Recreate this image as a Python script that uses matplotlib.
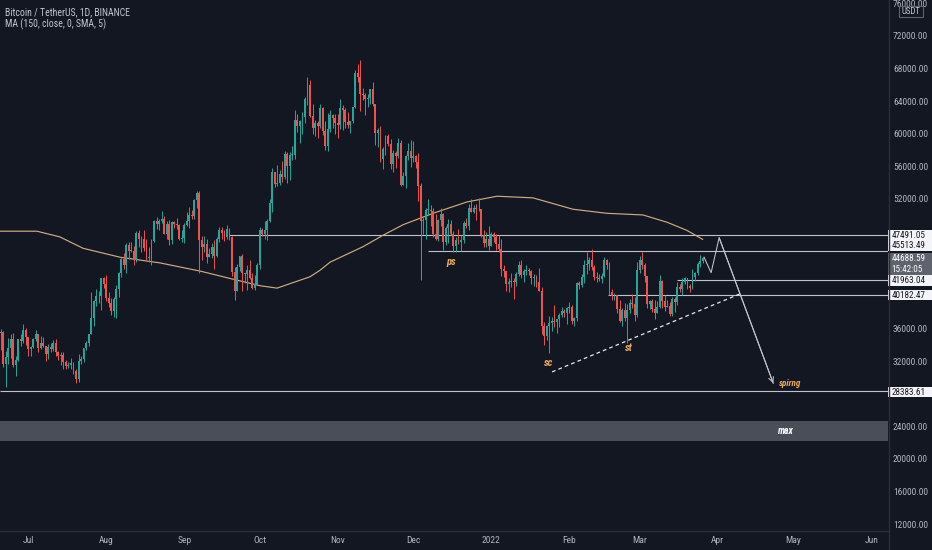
import datetime as dt
import matplotlib
matplotlib.use("Agg")
import matplotlib.pyplot as plt
import matplotlib.dates as mdates
from matplotlib import font_manager as fm
from matplotlib.patches import Rectangle

# ---------------- data (prices in thousands of USDT) ----------------
start_date = dt.date(2021, 6, 20)
first_open = 35.5

close_jun = [35.6, 31.7, 32.5, 33.7, 34.7, 31.6, 32.2, 34.7, 34.5, 35.9, 35.0]
high_jun = [36.0, 35.7, 33.3, 34.9, 35.3, 35.5, 32.7, 34.7, 35.3, 36.6, 36.1]
low_jun = [33.4, 31.3, 28.8, 31.7, 32.4, 31.3, 30.2, 32.0, 33.9, 34.3, 34.0]

close_jul = [33.5, 33.8, 34.7, 35.3, 33.7, 34.2, 33.9, 32.9, 33.8, 33.5, 34.3, 33.1, 32.7, 32.8, 31.9, 31.4,
             31.5, 31.8, 30.8, 29.8, 32.1, 32.3, 33.6, 34.3, 35.4, 37.3, 39.4, 40.0, 40.0, 42.2, 41.5]
high_jul = [35.0, 33.9, 34.9, 35.9, 35.3, 35.1, 35.0, 33.9, 34.1, 34.3, 34.6, 34.7, 33.3, 33.1, 33.2, 32.2,
            31.9, 32.4, 31.9, 31.0, 32.9, 32.6, 33.6, 34.5, 35.4, 40.5, 39.5, 40.9, 40.6, 42.3, 42.4]
low_jul = [32.7, 32.7, 33.6, 34.5, 33.2, 33.5, 33.8, 32.1, 32.3, 33.1, 33.3, 32.7, 32.2, 31.6, 31.1, 31.0,
           31.2, 31.1, 30.4, 29.3, 29.5, 31.7, 31.9, 33.4, 33.9, 35.3, 36.4, 38.8, 39.2, 38.3, 41.0]

close_aug = [39.8, 39.2, 38.2, 39.7, 40.9, 42.8, 44.6, 43.8, 46.3, 45.6, 45.6, 44.4, 47.8, 47.1, 47.0, 45.9,
             44.7, 44.7, 46.8, 49.3, 48.9, 49.3, 49.5, 47.7, 48.9, 46.9, 49.1, 48.9, 48.8, 47.0, 47.2]
high_aug = [42.6, 40.5, 39.8, 39.9, 41.4, 43.0, 44.7, 45.3, 46.5, 46.7, 46.7, 46.2, 48.0, 48.1, 47.4, 48.1,
            47.1, 46.0, 47.0, 49.4, 49.8, 49.5, 50.5, 49.9, 49.2, 49.4, 49.2, 49.3, 49.6, 48.9, 48.2]
low_aug = [39.4, 38.7, 37.7, 37.5, 37.3, 39.9, 42.4, 43.4, 42.8, 44.6, 45.4, 43.8, 44.2, 46.0, 45.5, 45.6,
           44.4, 44.2, 43.9, 46.7, 48.3, 48.1, 49.0, 47.6, 47.1, 46.3, 46.4, 48.4, 48.3, 46.9, 46.7]

close_sep = [48.8, 49.3, 50.0, 49.9, 51.8, 52.7, 46.9, 46.1, 46.4, 44.8, 45.2, 46.1, 45.0, 47.1, 48.1,
             47.8, 47.3, 48.3, 47.3, 43.0, 40.7, 43.6, 44.9, 42.8, 42.7, 43.2, 42.2, 41.0, 41.5, 43.8]
high_sep = [49.0, 50.4, 51.0, 50.6, 51.9, 52.9, 52.9, 47.4, 47.4, 47.0, 45.9, 46.5, 46.9, 47.3, 48.5,
            48.5, 48.2, 48.8, 48.4, 47.4, 43.6, 44.0, 44.9, 45.2, 42.9, 43.9, 44.4, 42.8, 42.6, 44.1]
low_sep = [46.5, 48.6, 48.4, 49.5, 49.5, 50.9, 42.8, 44.4, 45.5, 44.1, 44.8, 44.7, 43.4, 44.8, 46.7,
           47.0, 46.8, 47.0, 46.9, 42.5, 39.6, 40.6, 43.1, 40.7, 41.6, 40.8, 42.1, 40.9, 40.8, 41.4]

close_oct = [48.2, 47.6, 48.2, 49.2, 51.5, 55.3, 53.8, 53.9, 55.0, 54.7, 57.5, 56.0, 57.4, 57.4, 61.7, 60.9,
             61.5, 62.0, 64.3, 66.0, 62.2, 60.7, 61.3, 60.9, 63.1, 60.3, 58.5, 60.6, 62.3, 61.9, 61.3]
high_oct = [48.5, 48.4, 49.2, 49.5, 51.9, 55.8, 55.3, 56.1, 55.5, 56.6, 57.8, 57.7, 57.7, 58.5, 62.9, 62.4,
            61.7, 62.7, 64.5, 67.0, 66.6, 63.7, 61.7, 61.5, 63.7, 63.3, 61.5, 62.5, 62.9, 62.4, 62.4]
low_oct = [43.3, 47.4, 47.1, 46.9, 49.1, 50.4, 53.4, 53.6, 53.7, 54.1, 54.4, 53.9, 54.3, 56.8, 56.9, 60.2,
           58.9, 60.0, 61.3, 63.5, 62.0, 60.0, 59.7, 59.5, 60.7, 59.8, 58.0, 57.8, 60.2, 60.7, 60.0]

close_nov = [61.0, 63.2, 62.9, 61.4, 61.0, 61.5, 63.3, 67.5, 66.9, 64.9, 64.8, 64.2, 64.4, 65.5, 63.6,
             60.1, 60.4, 56.9, 58.1, 59.7, 58.7, 56.3, 57.6, 57.2, 58.9, 53.7, 54.8, 57.3, 57.8, 57.0]
high_nov = [62.4, 64.3, 63.5, 63.1, 62.6, 61.6, 63.3, 67.8, 68.5, 69.0, 65.6, 65.0, 64.9, 65.5, 66.4,
            63.6, 60.7, 60.9, 58.4, 59.8, 60.0, 59.3, 58.0, 57.8, 59.4, 59.2, 55.3, 57.4, 58.9, 59.2]
low_nov = [59.4, 60.6, 60.4, 60.7, 60.7, 60.1, 61.3, 63.1, 66.3, 62.8, 64.1, 62.3, 63.3, 63.6, 63.4,
           58.6, 58.4, 56.5, 55.6, 57.4, 58.5, 55.6, 55.3, 55.8, 57.0, 53.6, 53.7, 53.3, 56.7, 55.9]

close_dec = [57.2, 56.5, 53.6, 49.2, 49.4, 50.6, 50.6, 50.5, 47.7, 47.1, 49.4, 50.1, 46.7, 48.4, 48.9, 47.6,
             46.2, 46.9, 46.7, 46.9, 49.0, 48.6, 50.8, 50.4, 50.8, 50.7, 50.7, 47.5, 46.5, 47.1, 46.2]
high_dec = [59.1, 57.4, 57.6, 53.9, 49.7, 50.9, 51.9, 51.2, 50.8, 50.1, 49.5, 50.8, 50.2, 48.7, 49.5, 49.4,
            48.0, 47.3, 48.3, 47.5, 49.3, 49.6, 51.4, 51.9, 51.2, 51.3, 52.1, 50.7, 48.1, 47.9, 48.6]
low_dec = [56.5, 55.8, 51.7, 42.0, 47.7, 47.1, 50.0, 48.6, 47.3, 46.9, 46.8, 48.6, 45.7, 46.3, 46.5, 47.5,
           45.5, 45.5, 46.4, 45.6, 46.6, 48.4, 48.1, 50.4, 50.2, 49.4, 50.5, 47.3, 46.1, 46.0, 45.7]

close_jan = [47.7, 47.3, 46.4, 45.8, 43.4, 43.1, 41.5, 41.7, 41.9, 41.8, 42.7, 43.9, 42.6, 43.1, 43.2, 43.1,
             42.2, 42.4, 41.7, 40.7, 36.4, 35.1, 36.3, 36.7, 36.9, 36.8, 37.2, 37.7, 38.2, 37.9, 38.5]
high_jan = [47.9, 47.9, 47.6, 47.5, 47.1, 43.8, 43.1, 42.3, 42.8, 42.2, 43.0, 44.3, 44.5, 43.4, 43.8, 43.5,
            43.2, 42.7, 42.6, 43.5, 41.1, 36.8, 36.5, 37.6, 37.5, 38.9, 37.2, 38.0, 38.7, 38.4, 38.7]
low_jan = [46.2, 46.7, 45.7, 45.5, 42.5, 42.4, 40.6, 40.5, 41.2, 39.7, 41.3, 42.5, 42.3, 41.7, 42.6, 42.6,
           41.5, 41.3, 41.1, 40.6, 35.4, 34.0, 34.6, 33.0, 35.7, 36.2, 35.5, 36.2, 37.4, 37.4, 36.6]

close_feb = [38.7, 36.9, 37.3, 41.6, 41.4, 42.4, 43.8, 44.0, 44.4, 43.6, 42.4, 42.2, 42.1, 42.5, 44.5, 43.9,
             40.5, 40.0, 40.1, 38.4, 37.0, 38.3, 37.3, 38.3, 39.2, 39.1, 37.7, 43.2]
high_feb = [39.3, 38.9, 37.4, 41.7, 41.9, 42.7, 44.5, 45.5, 44.8, 45.8, 43.9, 43.0, 42.7, 42.9, 44.8, 44.6,
            44.2, 40.9, 40.4, 40.2, 39.5, 38.5, 39.2, 39.0, 39.7, 40.3, 39.9, 44.2]
low_feb = [38.0, 36.6, 36.3, 37.0, 40.9, 41.1, 41.6, 42.7, 43.2, 43.2, 42.0, 41.7, 41.9, 41.6, 42.4, 43.3,
           40.1, 39.5, 39.6, 38.0, 36.8, 36.4, 37.0, 34.3, 38.0, 38.6, 37.0, 37.4]

close_mar = [44.4, 43.9, 42.5, 39.1, 39.4, 38.4, 38.0, 38.7, 41.9, 39.4, 38.7, 38.8, 37.8, 39.7, 39.3, 41.1,
             40.9, 41.8, 42.2, 41.3, 41.0, 42.4, 42.9, 44.0, 44.3, 44.68859]
high_mar = [44.9, 45.4, 44.1, 42.5, 39.6, 39.7, 39.5, 39.4, 42.6, 42.0, 40.2, 39.5, 39.3, 39.9, 39.9, 41.7,
            41.5, 42.3, 42.4, 42.3, 41.5, 43.4, 43.0, 44.2, 45.1, 44.8]
low_mar = [42.8, 43.3, 41.8, 38.6, 38.4, 38.1, 37.2, 37.9, 38.6, 38.5, 38.2, 38.7, 37.6, 37.6, 38.1, 38.9,
           40.5, 40.1, 41.5, 40.9, 40.5, 40.9, 41.9, 42.6, 43.6, 44.1]

# MA(150): days after 2021-07-01, value (k)
ma_days = [-11.2, 3.5, 12.6, 21.8, 36.5, 52.4, 68.3, 81.4, 92.1, 98.9, 104.5, 112.0, 116.0, 120.0,
           133.1, 141.0, 149.0, 160.9, 174.4, 186.3, 200.6, 216.5, 230.0, 244.3, 253.9, 261.8, 268.0]
ma_vals = [48.0, 48.0, 47.3, 45.9, 44.8, 44.1, 43.1, 42.1, 41.3, 41.0, 41.6, 42.4, 43.2, 44.2,
           46.1, 47.5, 48.8, 50.2, 51.6, 52.3, 52.1, 50.7, 50.2, 50.0, 49.1, 48.1, 47.0]

# drawn horizontal levels and the day (after 2021-07-01) where each starts
levels = [47491.05, 45513.49, 41963.04, 40182.47, 28383.61]
level_start_days = [80.0, 159.0, 258.0, 230.5, -12.0]

# "max" zone (USDT)
zone_low, zone_high = 22200, 24660

# dashed trend line and projected path (day after 2021-07-01, price k)
trend_days = [208.2, 282.9]
trend_vals = [30.7, 40.3]
path_days = [268.6, 271.4, 274.6, 296.1]
path_vals = [44.8, 42.9, 47.2, 29.3]

# annotations (text, day after 2021-07-01, price k)
notes = ["ps", "sc", "st", "spirng"]
note_days = [168.1, 207.0, 238.8, 302.8]
note_vals = [44.2, 31.8, 33.6, 29.3]
zone_label, zone_label_day, zone_label_val = "max", 300.9, 23.4

month_labels = ["Jul", "Aug", "Sep", "Oct", "Nov", "Dec", "2022", "Feb", "Mar", "Apr", "May", "Jun"]
price_ticks = list(range(12000, 76001, 4000))
covered_ticks = [28000, 40000, 44000, 48000]   # hidden under the level price tags
last_timer = "15:42:05"

# ---------------- styling ----------------
BG = "#131722"
TXT = "#b2b5be"
UP = "#26a69a"
DOWN = "#ef5350"
W, H = 932, 550

avail = {f.name for f in fm.fontManager.ttflist}
FONT, SCALE = "Liberation Sans", 0.86
for cand in ("Liberation Sans Narrow", "Roboto Condensed", "Open Sans Condensed"):
    if cand in avail:
        FONT, SCALE = cand, 1.0
        break
plt.rcParams["font.family"] = [FONT, "DejaVu Sans"]

def fs(v):
    return v * SCALE

closes = close_jun + close_jul + close_aug + close_sep + close_oct + close_nov + close_dec + close_jan + close_feb + close_mar
highs = high_jun + high_jul + high_aug + high_sep + high_oct + high_nov + high_dec + high_jan + high_feb + high_mar
lows = low_jun + low_jul + low_aug + low_sep + low_oct + low_nov + low_dec + low_jan + low_feb + low_mar
opens = [first_open] + closes[:-1]
n = len(closes)
dates = [start_date + dt.timedelta(days=i) for i in range(n)]
xd = mdates.date2num(dates)
jul1 = mdates.date2num(dt.date(2021, 7, 1))

O = [v * 1000 for v in opens]
C = [v * 1000 for v in closes]
Hh = [max(h * 1000, o, c) for h, o, c in zip(highs, O, C)]
L = [min(l * 1000, o, c) for l, o, c in zip(lows, O, C)]
cols = [UP if c >= o else DOWN for o, c in zip(O, C)]
bottoms = [min(o, c) for o, c in zip(O, C)]
heights = [max(abs(c - o), 70) for o, c in zip(O, C)]

fig = plt.figure(figsize=(W / 100, H / 100), dpi=100, facecolor=BG)
ax = fig.add_axes([0, 20 / H, 888 / W, 530 / H])
ax.set_facecolor(BG)
x0, x1 = jul1 - 11.2, jul1 + 341.7
ax.set_xlim(x0, x1)
ax.set_ylim(11263, 76426)
for s in ax.spines.values():
    s.set_visible(False)

# zone
ax.axhspan(zone_low, zone_high, color="#4a4e58", zorder=1, lw=0)
ax.text(jul1 + zone_label_day, zone_label_val * 1000, zone_label, color="white", fontsize=fs(7.0),
        fontstyle="italic", fontweight="bold", ha="center", va="center", zorder=6)

# levels
for lv, sd in zip(levels, level_start_days):
    ax.hlines(lv, max(jul1 + sd, x0), x1, colors="#bfc2ca", lw=0.8, zorder=2)

# MA
ax.plot([jul1 + d for d in ma_days], [v * 1000 for v in ma_vals], color="#cdac80", lw=0.85, zorder=3)

# candles
ax.vlines(xd, L, Hh, colors=cols, lw=0.7, zorder=4)
ax.bar(xd, heights, bottom=bottoms, width=0.75, color=cols, lw=0, zorder=5)

# trend / path
ax.plot([jul1 + d for d in trend_days], [v * 1000 for v in trend_vals], color="#e8e8ec", lw=0.9,
        dashes=(3, 2.5), zorder=6)
px = [jul1 + d for d in path_days]
pv = [v * 1000 for v in path_vals]
ax.plot(px, pv, color="#c2c5cd", lw=0.75, zorder=6)
ax.annotate("", xy=(px[-1], pv[-1]), xytext=(px[-2], pv[-2]),
            arrowprops=dict(arrowstyle="->", color="#c2c5cd", lw=0.75, shrinkA=0, shrinkB=0,
                            mutation_scale=9), zorder=6)

for t, d, v in zip(notes, note_days, note_vals):
    ax.text(jul1 + d, v * 1000, t, color="#eaa95a", fontsize=fs(7.6) if t != "spirng" else fs(6.6),
            fontstyle="italic", fontweight="bold", ha="center", va="center", zorder=7)

# axes ticks
months = [mdates.date2num(dt.date(2021 + (6 + i) // 12, (6 + i) % 12 + 1, 1)) for i in range(12)]
ax.set_xticks(months)
ax.set_xticklabels(month_labels)
ax.tick_params(axis="x", length=0, pad=4.2, labelsize=fs(6.8), labelcolor=TXT)
ax.yaxis.tick_right()
ax.set_yticks(price_ticks)
ax.set_yticklabels(["" if v in covered_ticks else f"{v:.2f}" for v in price_ticks])
ax.tick_params(axis="y", length=0, pad=3.6, labelsize=fs(6.8), labelcolor=TXT)

# overlay in pixel coordinates
ov = fig.add_axes([0, 0, 1, 1], zorder=10)
ov.set_xlim(0, W)
ov.set_ylim(H, 0)
ov.axis("off")
ov.patch.set_alpha(0)

ov.plot([888.5, 888.5], [0, H], color="#2a2e39", lw=1)
ov.plot([0, 888.5], [530.5, 530.5], color="#2a2e39", lw=1)

ov.text(5, 12, "Bitcoin / TetherUS, 1D, BINANCE", color="#c3c6ce", fontsize=fs(7.0), va="center", ha="left")
ov.text(5, 24.5, "MA (150, close, 0, SMA, 5)", color="#c3c6ce", fontsize=fs(7.0), va="center", ha="left")

ov.add_patch(Rectangle((899, 5.5), 24, 11.5, fc=BG, ec="#5d6270", lw=0.8))
ov.text(911, 11.5, "USDT", color="#c3c6ce", fontsize=fs(6.4), ha="center", va="center")

box_spans = [(229.5, 240.0), (240.0, 250.5), (275.0, 285.5), (289.5, 300.0), (386.5, 397.0)]
for lv, (y0, y1) in zip(levels, box_spans):
    ov.add_patch(Rectangle((887.5, y0), 44.5, y1 - y0, fc="#f4f5f8", ec="none"))
    ov.text(891.5, (y0 + y1) / 2 + 0.3, f"{lv:.2f}", color="#131722", fontsize=fs(6.6), ha="left", va="center")

ov.add_patch(Rectangle((887.5, 253.0), 44.5, 21.5, fc="#5f636e", ec="none"))
ov.text(891.5, 258.8, f"{closes[-1] * 1000:.2f}", color="white", fontsize=fs(6.6), ha="left", va="center")
ov.text(891.5, 269.0, last_timer, color="white", fontsize=fs(6.6), ha="left", va="center")

fig.savefig("out.png", dpi=100, facecolor=BG)
